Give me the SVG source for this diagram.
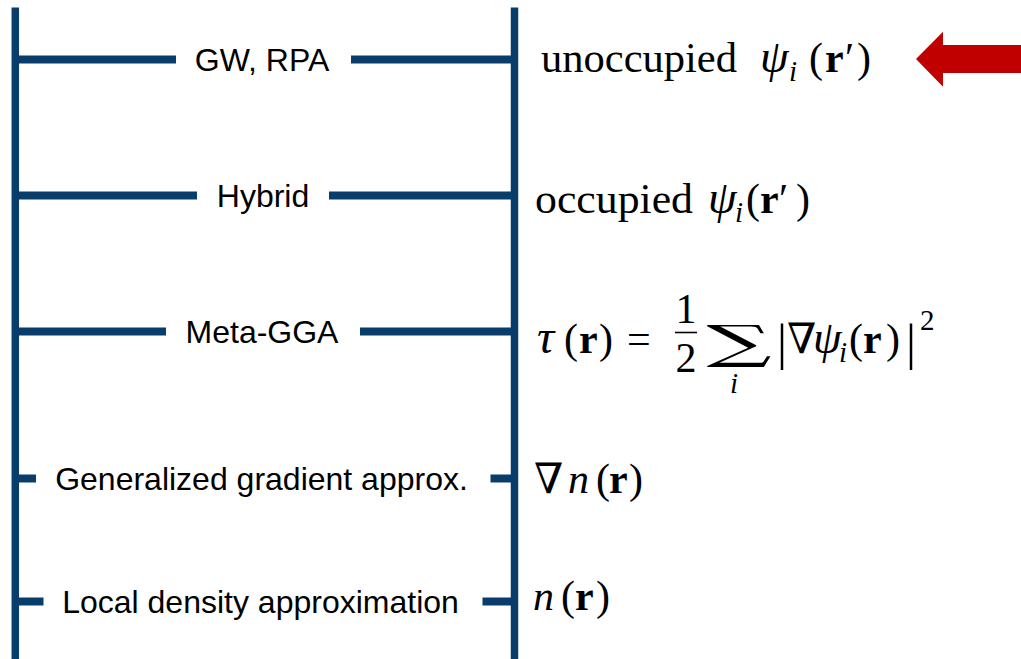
<svg xmlns="http://www.w3.org/2000/svg" width="1021" height="659" viewBox="0 0 1021 659">
  <style>
    .rail { stroke: #083C6A; stroke-width: 7.5; fill: none; }
    .rung { stroke: #083C6A; stroke-width: 8; fill: none; }
    .label { font-family: "Liberation Sans", Arial, sans-serif; font-size: 32px; fill: #000; text-anchor: middle; }
    .math { font-family: "Liberation Serif", "DejaVu Serif", serif; font-size: 42px; fill: #000; }
    .sym { font-family: "DejaVu Serif", serif; }
    .it { font-style: italic; }
    .bf { font-weight: bold; }
    .sub { font-size: 29px; }
    .big { font-size: 50px; }
  </style>
  <rect width="1021" height="659" fill="#fff"/>

  <!-- ladder rails and rungs -->
  <g id="connectors">
    <line class="rail" x1="15.3" y1="7.5" x2="15.3" y2="659"/>
    <line class="rail" x1="514.5" y1="7.5" x2="514.5" y2="659"/>
    <line class="rung" x1="15" y1="59.5" x2="176" y2="59.5"/>
    <line class="rung" x1="351" y1="59.5" x2="514" y2="59.5"/>
    <line class="rung" x1="15" y1="195.5" x2="197" y2="195.5"/>
    <line class="rung" x1="329" y1="195.5" x2="514" y2="195.5"/>
    <line class="rung" x1="15" y1="331.5" x2="166" y2="331.5"/>
    <line class="rung" x1="360" y1="331.5" x2="514" y2="331.5"/>
    <line class="rung" x1="15" y1="478.5" x2="36" y2="478.5"/>
    <line class="rung" x1="490.5" y1="478.5" x2="514" y2="478.5"/>
    <line class="rung" x1="15" y1="601.5" x2="43.5" y2="601.5"/>
    <line class="rung" x1="482.5" y1="601.5" x2="514" y2="601.5"/>
  </g>

  <!-- rung labels -->
  <g id="rung-gw-rpa"><text class="label" x="262" y="70.5">GW, RPA</text></g>
  <g id="rung-hybrid"><text class="label" x="263" y="206.5">Hybrid</text></g>
  <g id="rung-meta-gga"><text class="label" x="262" y="342.5">Meta-GGA</text></g>
  <g id="rung-gga"><text class="label" x="261.5" y="489.5">Generalized gradient approx.</text></g>
  <g id="rung-lda"><text class="label" x="260.5" y="612.5">Local density approximation</text></g>

  <!-- ingredient formulas -->
  <g id="ingredient-unoccupied">
    <text class="math" y="72"><tspan x="541" textLength="196" lengthAdjust="spacingAndGlyphs">unoccupied</tspan><tspan class="it" x="760" style="font-size:46px">ψ</tspan><tspan class="it sub" x="789" y="81">i</tspan><tspan x="809" y="72">(</tspan><tspan class="bf" x="825">r</tspan><tspan x="845">′</tspan><tspan x="857">)</tspan></text>
  </g>
  <g id="ingredient-occupied">
    <text class="math" y="213"><tspan x="535" textLength="158" lengthAdjust="spacingAndGlyphs">occupied</tspan><tspan class="it" x="708" style="font-size:46px">ψ</tspan><tspan class="it sub" x="735" y="222">i</tspan><tspan x="746" y="213">(</tspan><tspan class="bf" x="760">r</tspan><tspan x="779">′</tspan><tspan x="796">)</tspan></text>
  </g>
  <g id="ingredient-tau">
    <text class="math" y="353"><tspan class="it" x="537" style="font-size:48px">τ</tspan><tspan x="564">(</tspan><tspan class="bf" x="579">r</tspan><tspan x="599">)</tspan><tspan x="627">=</tspan></text>
    <text class="math" x="686" y="323" text-anchor="middle">1</text>
    <line x1="675" y1="332.5" x2="697" y2="332.5" stroke="#000" stroke-width="1.6"/>
    <text class="math" x="686" y="372" text-anchor="middle">2</text>
    <text class="math sym" text-anchor="middle" transform="translate(739,358) scale(1.9,0.96)" style="font-size:48px">∑</text>
    <text class="math it sub" x="734" y="393" text-anchor="middle">i</text>
    <text class="math" y="353"><tspan class="big" x="777" y="359">|</tspan><tspan class="sym" x="787" y="353">∇</tspan><tspan class="it" x="813" style="font-size:46px">ψ</tspan><tspan class="it sub" x="839" y="362">i</tspan><tspan x="849" y="353">(</tspan><tspan class="bf" x="863">r</tspan><tspan x="886">)</tspan><tspan class="big" x="906" y="359">|</tspan></text>
    <text class="math sub" x="920" y="330">2</text>
  </g>
  <g id="ingredient-grad-n">
    <text class="math" y="493"><tspan class="sym" x="534">∇</tspan><tspan class="it" x="568">n</tspan><tspan x="596">(</tspan><tspan class="bf" x="609">r</tspan><tspan x="629">)</tspan></text>
  </g>
  <g id="ingredient-n">
    <text class="math" y="610"><tspan class="it" x="533">n</tspan><tspan x="561">(</tspan><tspan class="bf" x="575">r</tspan><tspan x="596">)</tspan></text>
  </g>

  <!-- pointer arrow -->
  <g id="current-rung-arrow">
    <polygon points="916,59 943,31.7 943,45 1021,45 1021,73 943,73 943,86.7" fill="#C00000"/>
  </g>
</svg>
